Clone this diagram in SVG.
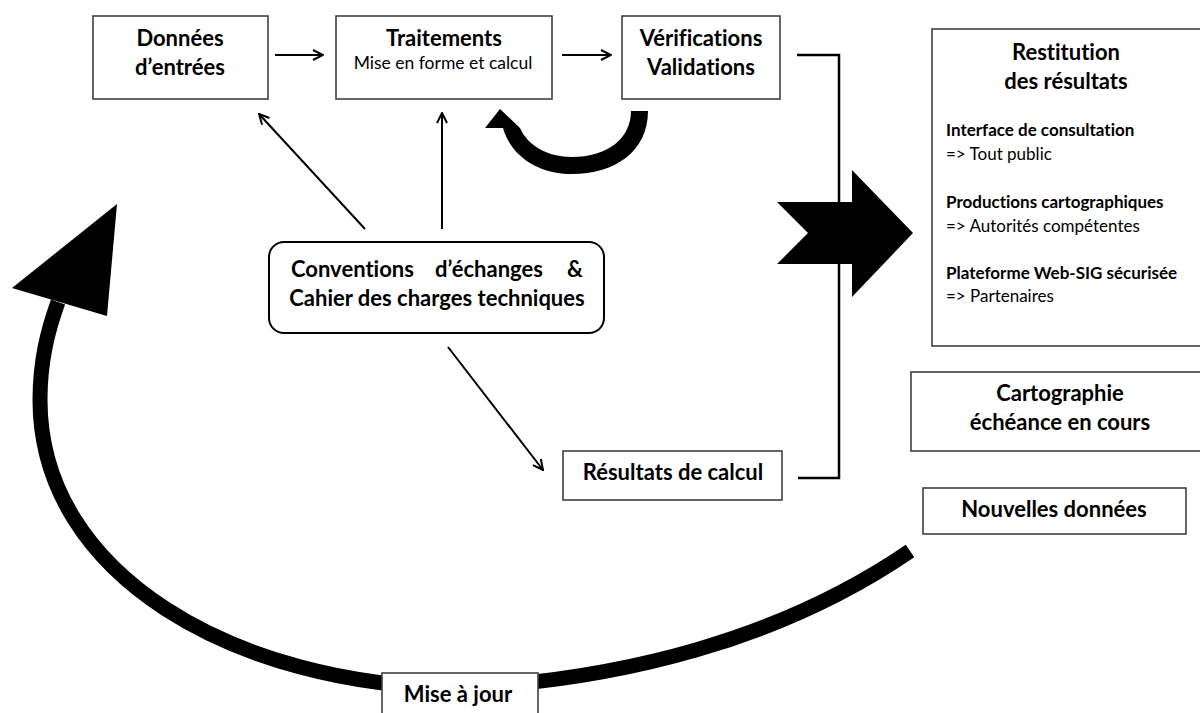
<svg xmlns="http://www.w3.org/2000/svg" width="1200" height="713" viewBox="0 0 1200 713">
<defs>
<style>
text{font-variant-ligatures:none;font-feature-settings:"liga" 0,"dlig" 0}
.box{fill:#fff;stroke:#404040;stroke-width:1.6}
.t{font-family:Lato,"Liberation Sans",sans-serif;font-weight:700;font-size:22px;fill:#000}
.tc{text-anchor:middle}
.s{font-family:Lato,"Liberation Sans",sans-serif;font-size:17.5px;fill:#000}
.sb{font-family:Lato,"Liberation Sans",sans-serif;font-weight:700;font-size:17px;fill:#000}
.sr{font-family:Lato,"Liberation Sans",sans-serif;font-size:17px;fill:#000}
.thin{fill:none;stroke:#000;stroke-width:2}
.conn{fill:none;stroke:#000;stroke-width:2.5}
.thick{fill:none;stroke:#000;stroke-width:15}
.solid{fill:#000;stroke:none}
</style>
<marker id="open" viewBox="0 0 12 12" refX="11" refY="6" markerWidth="12" markerHeight="12" markerUnits="userSpaceOnUse" orient="auto">
<path d="M1,1 L11,6 L1,11" fill="none" stroke="#000" stroke-width="2"/>
</marker>
</defs>
<rect width="1200" height="713" fill="#fff"/>

<g id="connectors">
<line class="thin" x1="275" y1="55" x2="323" y2="55" marker-end="url(#open)"/>
<line class="thin" x1="562" y1="55" x2="611" y2="55" marker-end="url(#open)"/>
<line class="thin" x1="365" y1="229" x2="259" y2="114" marker-end="url(#open)"/>
<line class="thin" x1="442" y1="229" x2="442" y2="113" marker-end="url(#open)"/>
<line class="thin" x1="448" y1="347" x2="543" y2="470" marker-end="url(#open)"/>
<polyline class="conn" points="797,55 839,55 839,478 798,478"/>
<polygon class="solid" points="777,202 852,202 852,170 913,233 852,297 852,264 777,264 808,233"/>
<path class="solid" d="M648,111 C648,152 614,174 572,174 C538,174 511,156 503,128 L485,128 L500,109 L520,128 C528,146 548,157 572,157 C608,157 631,138 631,111 Z"/>
<path class="thick" d="M910,551 C780,640 620,680 460,688 C235,686 40,575 40,400 C40,360 48,330 58,302"/>
<polygon class="solid" points="117,204 12,288 107,316"/>
</g>

<g id="donnees">
<rect class="box" x="93" y="16" width="175" height="83"/>
<text class="t tc" x="180" y="46">Données</text>
<text class="t tc" x="180" y="75">d’entrées</text>
</g>

<g id="traitements">
<rect class="box" x="336" y="16" width="216" height="83"/>
<text class="t tc" x="444" y="46">Traitements</text>
<text class="s tc" x="443" y="69">Mise en forme et calcul</text>
</g>

<g id="verifications">
<rect class="box" x="622" y="16" width="158" height="83"/>
<text class="t tc" x="701" y="46">Vérifications</text>
<text class="t tc" x="701" y="75">Validations</text>
</g>

<g id="conventions">
<rect class="box" x="269" y="242" width="335" height="91" rx="15" ry="15" style="stroke:#000;stroke-width:2"/>
<text class="t"><tspan x="291" y="277">Conventions</tspan><tspan x="489" y="277" text-anchor="middle">d’échanges</tspan><tspan x="583" y="277" text-anchor="end">&amp;</tspan></text>
<text class="t tc" x="437" y="306">Cahier des charges techniques</text>
</g>

<g id="resultats">
<rect class="box" x="563" y="451" width="219" height="49"/>
<text class="t tc" x="673" y="480">Résultats de calcul</text>
</g>

<g id="restitution">
<rect class="box" x="932" y="29" width="275" height="317"/>
<text class="t tc" x="1066" y="60">Restitution</text>
<text class="t tc" x="1066" y="89">des résultats</text>
<text class="sb" x="946" y="136">Interface de consultation</text>
<text class="sr" x="946" y="160">=&gt; Tout public</text>
<text class="sb" x="946" y="208">Productions cartographiques</text>
<text class="sr" x="946" y="232">=&gt; Autorités compétentes</text>
<text class="sb" x="946" y="279">Plateforme Web-SIG sécurisée</text>
<text class="sr" x="946" y="302">=&gt; Partenaires</text>
</g>

<g id="cartographie">
<rect class="box" x="911" y="372" width="296" height="79"/>
<text class="t tc" x="1060" y="401">Cartographie</text>
<text class="t tc" x="1060" y="430">échéance en cours</text>
</g>

<g id="nouvelles">
<rect class="box" x="923" y="488" width="263" height="46"/>
<text class="t tc" x="1054" y="517">Nouvelles données</text>
</g>

<g id="misejour">
<rect class="box" x="382" y="673" width="156" height="50"/>
<text class="t tc" x="458" y="702">Mise à jour</text>
</g>
</svg>
